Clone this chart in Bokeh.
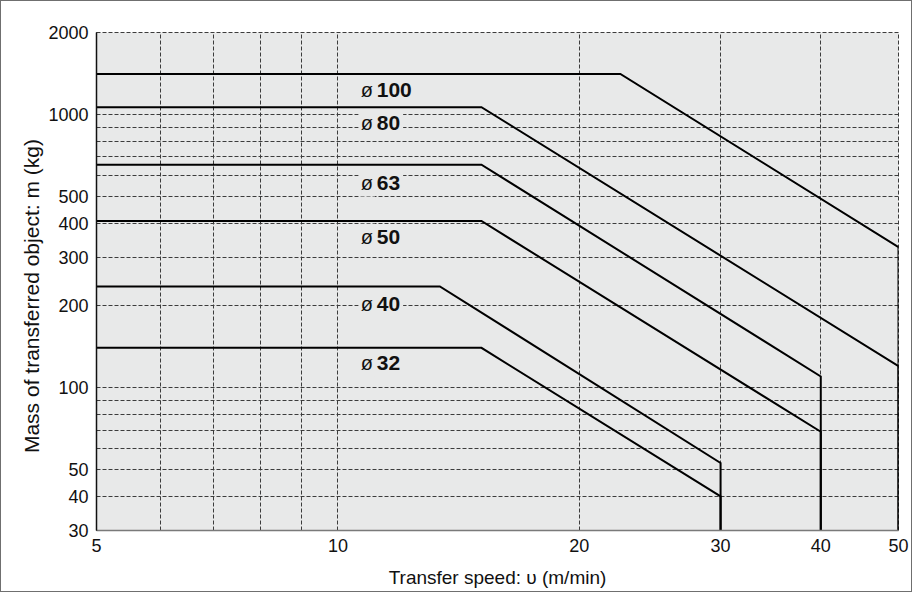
from bokeh.plotting import figure
from bokeh.models import FixedTicker, Label, NumeralTickFormatter, Range1d
from bokeh.embed import file_html
from bokeh.resources import INLINE

# ---------------- data ----------------
speed_ticks = [5, 10, 20, 30, 40, 50]
mass_ticks = [30, 40, 50, 100, 200, 300, 400, 500, 1000, 2000]
speed_grid = [6, 7, 8, 9, 10, 20, 30, 40]
mass_grid = [40, 50, 60, 70, 80, 90, 100, 200, 300, 400, 500, 600, 700, 800, 900, 1000]

bore_names = ["100", "80", "63", "50", "40", "32"]

speed_100 = [5, 22.5, 50, 50]
mass_100 = [1410, 1410, 327, 30]
speed_80 = [5, 15.1, 50, 50]
mass_80 = [1065, 1065, 120, 30]
speed_63 = [5, 15.1, 40, 40]
mass_63 = [656, 656, 110, 30]
speed_50 = [5, 15.1, 40, 40]
mass_50 = [408, 408, 69, 30]
speed_40 = [5, 13.4, 30, 30]
mass_40 = [235, 235, 53, 30]
speed_32 = [5, 15.1, 30, 30]
mass_32 = [140, 140, 40, 30]

series = [
    (speed_100, mass_100),
    (speed_80, mass_80),
    (speed_63, mass_63),
    (speed_50, mass_50),
    (speed_40, mass_40),
    (speed_32, mass_32),
]

# ---------------- styling ----------------
FONT = "Liberation Sans"
BG = "#e8e9e9"
GRID = "#3c3c3c"

p = figure(width=912, height=592, x_axis_type="log", y_axis_type="log",
           x_range=Range1d(5, 50), y_range=Range1d(30, 2000),
           output_backend="svg", toolbar_location=None,
           min_border_left=95, min_border_right=15,
           min_border_top=31, min_border_bottom=63)
p.styles = {"border": "1px solid #6f6f6f"}
p.background_fill_color = BG
p.border_fill_color = "white"
p.outline_line_color = GRID
p.outline_line_dash = "4 2"
p.outline_line_width = 1

p.xgrid.ticker = FixedTicker(ticks=speed_grid)
p.ygrid.ticker = FixedTicker(ticks=mass_grid)
for g in (p.xgrid, p.ygrid):
    g.grid_line_color = GRID
    g.grid_line_dash = "4 2"
    g.grid_line_width = 1
    g.minor_grid_line_color = None

p.xaxis.ticker = FixedTicker(ticks=speed_ticks)
p.yaxis.ticker = FixedTicker(ticks=mass_ticks)
for ax in (p.xaxis, p.yaxis):
    ax.formatter = NumeralTickFormatter(format="0")
    ax.major_tick_line_color = None
    ax.minor_tick_line_color = None
    ax.major_tick_out = 0
    ax.major_tick_in = 0
    ax.major_label_text_font = FONT
    ax.major_label_text_font_size = "18px"
    ax.major_label_text_color = "#111111"
p.xaxis.major_label_standoff = 8
p.yaxis.major_label_standoff = 8
p.yaxis.axis_line_color = "#111111"
p.yaxis.axis_line_width = 1.5
p.xaxis.axis_line_color = "#7a7a7a"
p.xaxis.axis_line_width = 1.5

p.xaxis.axis_label = "Transfer speed: \u03c5 (m/min)"
p.xaxis.axis_label_text_font_size = "19px"
p.xaxis.axis_label_standoff = 12
p.yaxis.axis_label = "Mass of transferred object: m (kg)" + "\u00a0" * 5
p.yaxis.axis_label_text_font_size = "21px"
p.yaxis.axis_label_standoff = 2
for ax in (p.xaxis, p.yaxis):
    ax.axis_label_text_font = FONT
    ax.axis_label_text_font_style = "normal"
    ax.axis_label_text_color = "#111111"

for sx, my in series:
    p.line(sx, my, line_color="black", line_width=2, line_join="miter")

# bore labels (baseline positions)
label_x = 10.77
label_base = {"100": 1160, "80": 881, "63": 528, "50": 337, "40": 191, "32": 116}
for name in bore_names:
    p.add_layout(Label(x=label_x, y=label_base[name], x_offset=10, y_offset=7, text=name,
                       text_font=FONT, text_font_size="21px", text_font_style="bold",
                       text_baseline="alphabetic", text_color="#111111",
                       background_fill_color=BG, padding=3))
    p.add_layout(Label(x=label_x, y=label_base[name], x_offset=-5, y_offset=7, text="\u00f8",
                       text_font=FONT, text_font_size="20px",
                       text_baseline="alphabetic", text_color="#111111",
                       background_fill_color=BG, padding=2))

open("out.html", "w").write(file_html(p, INLINE))
